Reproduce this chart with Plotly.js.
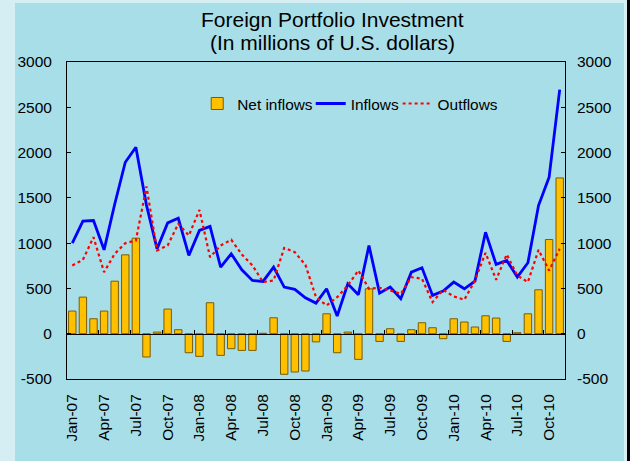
<!DOCTYPE html>
<html>
<head>
<meta charset="utf-8">
<script src="https://cdn.plot.ly/plotly-3.0.1.min.js"></script>
<style>
  html, body { margin:0; padding:0; background:#ffffff; }
  #wrap { position:relative; width:636px; height:461px; background:#D4EEF4; overflow:hidden; }
  #panel { position:absolute; left:15px; top:3px; width:609px; height:458px; background:#A8DEE8; }
  #edge { position:absolute; left:627px; top:0; width:3px; height:461px; background:#000; }
  #white { position:absolute; left:630px; top:0; width:6px; height:461px; background:#fff; }
  #chart { position:absolute; left:0; top:0; width:636px; height:461px; }
</style>
</head>
<body>
<div id="wrap">
  <div id="panel"></div>
  <div id="edge"></div>
  <div id="white"></div>
  <div id="chart"></div>
</div>
<script>
const months = [
  'Jan-07','Feb-07','Mar-07','Apr-07','May-07','Jun-07','Jul-07','Aug-07','Sep-07','Oct-07','Nov-07','Dec-07',
  'Jan-08','Feb-08','Mar-08','Apr-08','May-08','Jun-08','Jul-08','Aug-08','Sep-08','Oct-08','Nov-08','Dec-08',
  'Jan-09','Feb-09','Mar-09','Apr-09','May-09','Jun-09','Jul-09','Aug-09','Sep-09','Oct-09','Nov-09','Dec-09',
  'Jan-10','Feb-10','Mar-10','Apr-10','May-10','Jun-10','Jul-10','Aug-10','Sep-10','Oct-10','Nov-10'
];

const netInflows = [
  250, 404, 165, 250, 580, 871, 1055, -257, 18, 272, 44, -210,
  -250, 342, -239, -165, -184, -184, 5, 176, -448, -423, -412, -90,
  220, -210, 18, -283, 496, -85, 55, -85, 44, 121, 66, -55,
  165, 129, 74, 198, 173, -85, 11, 220, 485, 1040, 1720
];

const inflows = [
  1000, 1243, 1250, 926, 1430, 1893, 2059, 1420, 937, 1224, 1275, 864,
  1140, 1184, 735, 882, 706, 588, 577, 735, 515, 489, 397, 338,
  496, 195, 551, 430, 974, 448, 515, 386, 680, 728, 423, 470,
  570, 496, 581, 1121, 765, 809, 625, 783, 1415, 1728, 2695
];

const outflows = [
  754, 816, 1066, 680, 882, 1000, 1029, 1625, 919, 974, 1213, 1084,
  1367, 845, 974, 1037, 875, 754, 570, 588, 948, 900, 760, 404,
  312, 404, 533, 698, 496, 507, 478, 441, 625, 607, 349, 485,
  412, 375, 588, 893, 596, 875, 643, 570, 926, 698, 937
];

const yTicks = [-500, 0, 500, 1000, 1500, 2000, 2500, 3000];

const FONT = 'Arial, "Liberation Sans", Helvetica, sans-serif';
const yRange = [yTicks[0], yTicks[yTicks.length - 1]];
const xRange = [-0.5, months.length - 0.5];

const traces = [
  {
    type: 'bar', name: 'Net inflows', x: months, y: netInflows,
    xaxis: 'x', yaxis: 'y',
    marker: { color: '#FFC000', line: { color: '#7A5C00', width: 1 } },
    legend: 'legend', hoverinfo: 'skip'
  },
  {
    type: 'scatter', mode: 'lines', name: 'Inflows', x: months, y: inflows,
    xaxis: 'x2', yaxis: 'y2',
    line: { color: '#0000FF', width: 2.8 },
    legend: 'legend2', hoverinfo: 'skip'
  },
  {
    type: 'scatter', mode: 'lines', name: 'Outflows', x: months, y: outflows,
    xaxis: 'x2', yaxis: 'y2',
    line: { color: '#FF0000', width: 2.2, dash: 'dot' },
    legend: 'legend3', hoverinfo: 'skip'
  }
];

const legendBase = {
  orientation: 'h', bgcolor: 'rgba(0,0,0,0)', borderwidth: 0,
  font: { family: FONT, size: 15.4, color: '#000' },
  xanchor: 'left', yanchor: 'middle', y: 0.8675, itemwidth: 30
};

const layout = {
  width: 636, height: 461,
  margin: { l: 67, r: 71, t: 62, b: 82, pad: 0 },
  paper_bgcolor: 'rgba(0,0,0,0)',
  plot_bgcolor: 'rgba(0,0,0,0)',
  font: { family: FONT, size: 15.5, color: '#000' },
  bargap: 0.3,
  showlegend: true,
  legend: Object.assign({}, legendBase, { x: 0.2615 }),
  legend2: Object.assign({}, legendBase, { x: 0.4894 }),
  legend3: Object.assign({}, legendBase, { x: 0.6639 }),
  xaxis: {
    type: 'category', categoryorder: 'array', categoryarray: months,
    range: xRange, tick0: 0, dtick: 3,
    tickangle: -90, ticks: '', ticklabelstandoff: 8,
    showline: true, linecolor: '#000', linewidth: 1, mirror: true,
    showgrid: false, zeroline: false,
    tickfont: { family: FONT, size: 15.5, color: '#000' }
  },
  xaxis2: {
    type: 'category', categoryorder: 'array', categoryarray: months,
    overlaying: 'x', anchor: 'free',
    position: (0 - yRange[0]) / (yRange[1] - yRange[0]),
    range: xRange, tick0: 0, dtick: 3,
    ticks: 'inside', tickson: 'boundaries', ticklen: 4, tickcolor: '#000',
    showticklabels: false,
    showline: true, linecolor: '#000', linewidth: 1,
    showgrid: false, zeroline: false
  },
  yaxis: {
    range: yRange, tickvals: yTicks, ticktext: yTicks.map(String),
    ticks: 'inside', ticklen: 4, tickcolor: '#000', ticklabelstandoff: 11,
    showline: true, linecolor: '#000', linewidth: 1, mirror: true,
    showgrid: false, zeroline: false,
    tickfont: { family: FONT, size: 15.5, color: '#000' }
  },
  yaxis2: {
    overlaying: 'y', side: 'right', anchor: 'x2',
    range: yRange, tickvals: yTicks, ticktext: yTicks.map(String),
    ticks: 'inside', ticklen: 4, tickcolor: '#000', ticklabelstandoff: 11,
    showline: false, showgrid: false, zeroline: false,
    tickfont: { family: FONT, size: 15.5, color: '#000' }
  },
  annotations: [
    {
      text: 'Foreign Portfolio Investment', xref: 'paper', yref: 'paper',
      x: 0.534, y: 1.1334, xanchor: 'center', yanchor: 'middle', showarrow: false,
      font: { family: FONT, size: 21, color: '#000' }
    },
    {
      text: '(In millions of U.S. dollars)', xref: 'paper', yref: 'paper',
      x: 0.534, y: 1.06, xanchor: 'center', yanchor: 'middle', showarrow: false,
      font: { family: FONT, size: 21, color: '#000' }
    }
  ]
};

Plotly.newPlot('chart', traces, layout, { displayModeBar: false, staticPlot: true });
</script>
</body>
</html>
